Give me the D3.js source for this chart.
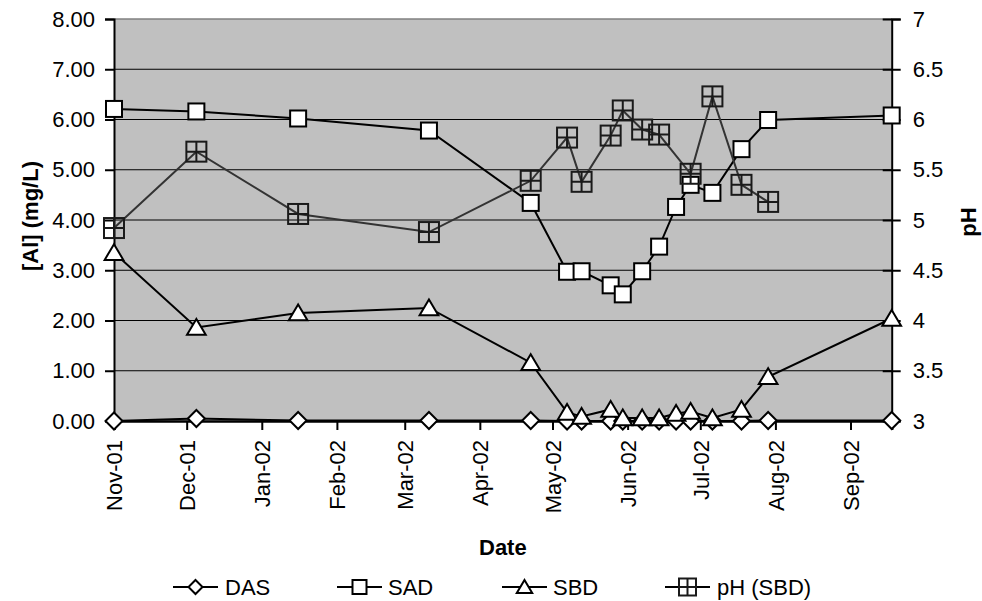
<!DOCTYPE html>
<html><head><meta charset="utf-8">
<script src="https://cdn.jsdelivr.net/npm/d3@7"></script>
<style>
body{margin:0;background:#fff}
svg{display:block}
text{font-family:"Liberation Sans",Arial,sans-serif;fill:#000}
</style>
</head><body>
<svg id="chart" width="982" height="601"></svg>
<script>
// ---- data ----
const sampleDates = ["2001-11-01","2001-12-05","2002-01-16","2002-03-11","2002-04-22","2002-05-07","2002-05-13","2002-05-25","2002-05-30","2002-06-07","2002-06-14","2002-06-21","2002-06-27","2002-07-06","2002-07-18","2002-07-29","2002-09-18"];
const dasValues = [0.00,0.05,0.01,0.01,0.01,0.00,0.00,0.00,0.00,0.00,0.00,0.00,0.00,0.00,0.00,0.01,0.01];
const sadValues = [6.21,6.16,6.02,5.78,4.34,2.97,2.98,2.70,2.52,2.98,3.47,4.26,4.70,4.54,5.41,5.99,6.08];
const sbdValues = [3.35,1.86,2.15,2.25,1.16,0.17,0.09,0.23,0.06,0.06,0.06,0.15,0.19,0.06,0.23,0.88,2.04];
const phDates = ["2001-11-01","2001-12-05","2002-01-16","2002-03-11","2002-04-22","2002-05-07","2002-05-13","2002-05-25","2002-05-30","2002-06-07","2002-06-14","2002-06-27","2002-07-06","2002-07-18","2002-07-29"];
const phValues = [4.92,5.68,5.06,4.88,5.39,5.82,5.38,5.84,6.09,5.90,5.85,5.46,6.23,5.35,5.18];
const leftTicks = [0,1,2,3,4,5,6,7,8];
const rightTicks = [3,3.5,4,4.5,5,5.5,6,6.5,7];
const monthTicks = ["2001-11-01","2001-12-01","2002-01-01","2002-02-01","2002-03-01","2002-04-01","2002-05-01","2002-06-01","2002-07-01","2002-08-01","2002-09-01"];
const axisDomain = ["2001-11-01","2002-09-18"];
const seriesNames = ["DAS","SAD","SBD","pH (SBD)"];
const leftTitle = "[Al] (mg/L)";
const rightTitle = "pH";
const xTitle = "Date";

// ---- layout ----
const L = 114, R = 891.7, T = 19, B = 421;
const FS = 22;
const parse = d3.utcParse("%Y-%m-%d");
const x = d3.scaleUtc().domain(axisDomain.map(parse)).range([L, R]);
const y = d3.scaleLinear().domain([0, 8]).range([B, T]);
const y2 = d3.scaleLinear().domain([3, 7]).range([B, T]);

const svg = d3.select("#chart");

// plot background
svg.append("rect").attr("x", L).attr("y", T).attr("width", R - L).attr("height", B - T).attr("fill", "#c0c0c0");

// gridlines
svg.append("g").selectAll("line").data(leftTicks.filter(d => d > 0 && d < 8)).join("line")
  .attr("x1", L).attr("x2", R).attr("y1", d => y(d)).attr("y2", d => y(d))
  .attr("stroke", "#000").attr("stroke-width", 1.2);
// top border
svg.append("line").attr("x1", L).attr("x2", R).attr("y1", T).attr("y2", T).attr("stroke", "#808080").attr("stroke-width", 1.5);

// left axis
const gl = svg.append("g").attr("transform", `translate(${L},0)`)
  .call(d3.axisLeft(y).tickValues(leftTicks).tickFormat(d3.format(".2f")).tickSize(9).tickPadding(10));
gl.select(".domain").attr("stroke", "#000").attr("stroke-width", 2);
gl.selectAll(".tick line").attr("stroke", "#000").attr("stroke-width", 2);
gl.selectAll("text").attr("font-size", FS).attr("font-family", null).attr("fill", "#000");

// right axis
const gr = svg.append("g").attr("transform", `translate(${R},0)`)
  .call(d3.axisRight(y2).tickValues(rightTicks).tickFormat(d => d3.format("")(d)).tickSize(9).tickPadding(12));
gr.select(".domain").attr("stroke", "#000").attr("stroke-width", 2);
gr.selectAll(".tick line").attr("x1", -9).attr("stroke", "#000").attr("stroke-width", 2);
gr.selectAll("text").attr("font-size", FS).attr("font-family", null).attr("fill", "#000");

// bottom axis
const gb = svg.append("g").attr("transform", `translate(0,${B})`)
  .call(d3.axisBottom(x).tickValues(monthTicks.map(parse)).tickFormat(d3.utcFormat("%b-%y")).tickSize(9));
gb.select(".domain").attr("stroke", "#000").attr("stroke-width", 2.5);
gb.selectAll(".tick line").attr("stroke", "#000").attr("stroke-width", 2);
gb.selectAll("text").attr("font-size", FS).attr("font-family", null).attr("fill", "#000")
  .attr("transform", "rotate(-90)").attr("x", -19).attr("y", 0).attr("dy", "0.35em").style("text-anchor", "end");

// axis titles
svg.append("text").attr("transform", `translate(38,216) rotate(-90)`).attr("text-anchor", "middle")
  .attr("font-size", FS).attr("font-weight", "bold").text(leftTitle);
svg.append("text").attr("transform", `translate(976,222) rotate(-90)`).attr("text-anchor", "middle")
  .attr("font-size", FS).attr("font-weight", "bold").text(rightTitle);
svg.append("text").attr("x", (L + R) / 2).attr("y", 555).attr("text-anchor", "middle")
  .attr("font-size", FS).attr("font-weight", "bold").text(xTitle);

// markers
function drawMarker(g, type, s) {
  const h = s / 2;
  if (type === "diamond") {
    g.append("path").attr("d", `M0,${-h}L${h},0L0,${h}L${-h},0Z`).attr("fill", "#fff").attr("stroke", "#000").attr("stroke-width", 2);
  } else if (type === "square") {
    g.append("rect").attr("x", -h).attr("y", -h).attr("width", s).attr("height", s).attr("fill", "#fff").attr("stroke", "#000").attr("stroke-width", 2);
  } else if (type === "triangle") {
    g.append("path").attr("d", `M0,${-h}L${h * 1.1},${h * 0.85}L${-h * 1.1},${h * 0.85}Z`).attr("fill", "#fff").attr("stroke", "#000").attr("stroke-width", 2);
  } else if (type === "cross") {
    g.append("rect").attr("x", -h).attr("y", -h).attr("width", s).attr("height", s).attr("fill", "none").attr("stroke", "#1a1a1a").attr("stroke-width", 2);
    g.append("path").attr("d", `M0,${-h}V${h}M${-h},0H${h}`).attr("stroke", "#1a1a1a").attr("stroke-width", 2);
  }
}

const series = [
  {name: seriesNames[0], dates: sampleDates, values: dasValues, yS: y, marker: "diamond", size: 17, color: "#000"},
  {name: seriesNames[1], dates: sampleDates, values: sadValues, yS: y, marker: "square", size: 16, color: "#000"},
  {name: seriesNames[2], dates: sampleDates, values: sbdValues, yS: y, marker: "triangle", size: 17, color: "#000"},
  {name: seriesNames[3], dates: phDates, values: phValues, yS: y2, marker: "cross", size: 20, color: "#333"}
];

series.forEach(s => {
  const pts = s.dates.map((d, i) => [x(parse(d)), s.yS(s.values[i])]);
  svg.append("path").attr("d", d3.line()(pts)).attr("fill", "none").attr("stroke", s.color).attr("stroke-width", 2);
  const mg = svg.append("g");
  pts.forEach(p => {
    const g = mg.append("g").attr("transform", `translate(${p[0]},${p[1]})`);
    drawMarker(g, s.marker, s.size);
  });
});

// legend
const legendItems = [
  {x: 173, tx: 225},
  {x: 337, tx: 388},
  {x: 502, tx: 553},
  {x: 665, tx: 717}
];
const ly = 587;
series.forEach((s, i) => {
  const it = legendItems[i];
  svg.append("line").attr("x1", it.x).attr("x2", it.x + 45).attr("y1", ly).attr("y2", ly).attr("stroke", "#000").attr("stroke-width", 2);
  const g = svg.append("g").attr("transform", `translate(${it.x + 22.5},${ly})`);
  drawMarker(g, s.marker, s.marker === "cross" ? 17 : 14);
  svg.append("text").attr("x", it.tx).attr("y", ly + 8).attr("font-size", FS).text(s.name);
});
</script>
</body></html>
